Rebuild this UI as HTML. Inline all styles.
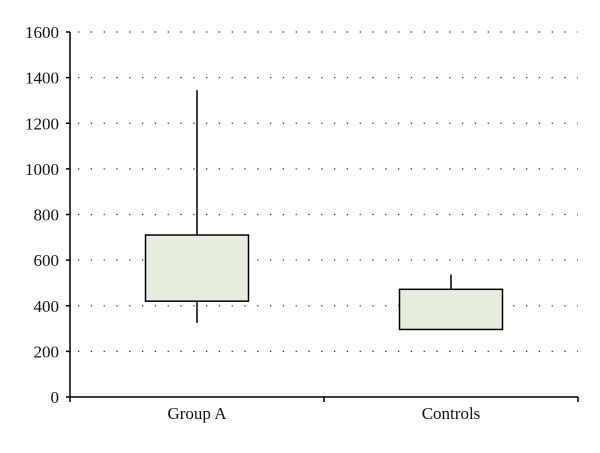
<!DOCTYPE html>
<html><head><meta charset="utf-8"><style>
body{margin:0;background:#fff;width:600px;height:448px;overflow:hidden}
text{font-family:"Liberation Serif",serif;font-size:17px;fill:#111}
</style></head><body>
<svg id="chart" width="600" height="448" xmlns="http://www.w3.org/2000/svg"></svg>
<script>
const categories=["Group A","Controls"];
const mins=[325,470];
const q1s=[420,296];
const q3s=[710,472];
const maxs=[1345,537];
const yTicks=[0,200,400,600,800,1000,1200,1400,1600];
const NS="http://www.w3.org/2000/svg";
const svg=document.getElementById("chart");
const x0=70,x1=578,yBase=397,yTop=32,yMax=1600;
function y(v){return yBase-(v/yMax)*(yBase-yTop);}
const band=(x1-x0)/categories.length;
function xc(i){return x0+band*(i+0.5);}
function mk(tag,attrs){const e=document.createElementNS(NS,tag);for(const k in attrs)e.setAttribute(k,attrs[k]);svg.appendChild(e);return e;}
yTicks.forEach(t=>{
  if(t>0){const g=mk("line",{x1:x0+8,x2:x1,y1:y(t),y2:y(t),stroke:"#333","stroke-width":1.3,"stroke-dasharray":"1.3 11.5"});
  
  }
  const tk=mk("line",{x1:x0-4,x2:x0,y1:y(t),y2:y(t),stroke:"#000","stroke-width":1.5});
  
  
  const l=mk("text",{x:x0-11,y:y(t)+6,"text-anchor":"end","font-size":"17.5"});l.textContent=t;
  
  
});
const ya=mk("line",{x1:x0,x2:x0,y1:yTop,y2:yBase,stroke:"#000","stroke-width":1.5});


const xa=mk("line",{x1:x0,x2:x1,y1:yBase,y2:yBase,stroke:"#000","stroke-width":1.5});


for(let i=0;i<=categories.length;i++){const t=mk("line",{x1:x0+band*i,x2:x0+band*i,y1:yBase,y2:yBase+5,stroke:"#000","stroke-width":1.5});

}
const bw=103;
categories.forEach((c,i)=>{
  const cx=xc(i);
  const w=mk("line",{x1:cx,x2:cx,y1:y(maxs[i]),y2:y(mins[i]),stroke:"#000","stroke-width":1.5});
  
  
  const b=mk("rect",{x:cx-bw/2,y:y(q3s[i]),width:bw,height:y(q1s[i])-y(q3s[i]),fill:"#e7eddd",stroke:"#000","stroke-width":1.5});
  
  
  const l=mk("text",{x:xc(i),y:yBase+22,"text-anchor":"middle"});l.textContent=c;
  
  
});
</script>
</body></html>
